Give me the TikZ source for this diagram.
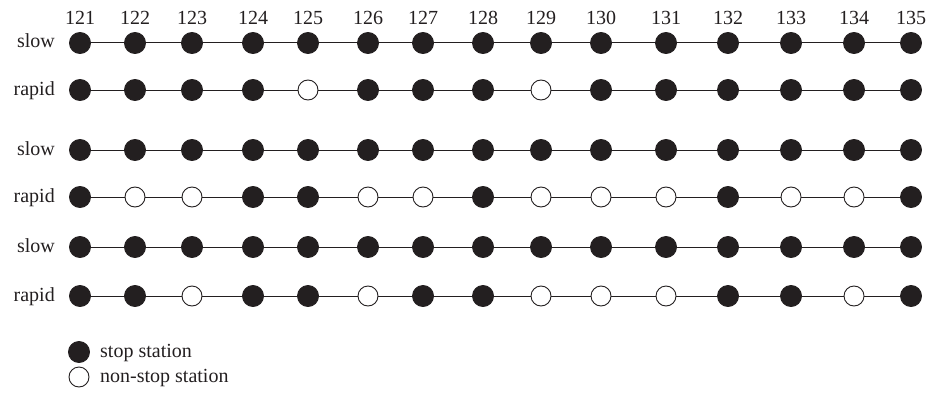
\documentclass[tikz,border=0pt]{standalone}
\usepackage{fontspec}
\setmainfont{Liberation Serif}

\definecolor{ink}{HTML}{231F20}

\tikzset{
    station/.style={circle, draw=ink, line width=0.9pt, inner sep=0pt, minimum size=21pt},
    sth/.style={station, fill=ink},
    stn/.style={station, fill=white, minimum size=20pt},
    track/.style={draw=ink, line width=1pt},
    lbl/.style={font=\fontsize{20}{22}\selectfont, text=ink, inner sep=0pt}
}

\begin{document}
\begin{tikzpicture}[x=1pt, y=-1pt]
    \useasboundingbox (0,0) rectangle (928,396);

    % Station numbers
    \foreach \xx/\num in {80/121, 135/122, 192/123, 253/124, 308/125, 368/126, 423/127, 483/128,
                          541/129, 601/130, 666/131, 728/132, 791/133, 854/134, 911/135}
        \node[lbl] (n\num) at (\xx, 18) {\num};

    % Train lines (h = stop, n = non-stop)
    \foreach \r/\y/\kind/\pat in {
            1/43/slow/{h,h,h,h,h,h,h,h,h,h,h,h,h,h,h},
            2/90/rapid/{h,h,h,h,n,h,h,h,n,h,h,h,h,h,h},
            3/150/slow/{h,h,h,h,h,h,h,h,h,h,h,h,h,h,h},
            4/197/rapid/{h,n,n,h,h,n,n,h,n,n,n,h,n,n,h},
            5/247/slow/{h,h,h,h,h,h,h,h,h,h,h,h,h,h,h},
            6/296/rapid/{h,h,n,h,h,n,h,h,n,n,n,h,h,n,h}} {
        \coordinate (y\r) at (0, \y);
        \node[lbl, anchor=base east] (k\r) at (55, \y+5) {\kind};
        \foreach \c [count=\i] in \pat {
            \pgfmathtruncatemacro\num{120+\i}
            \node[st\c] (s\r-\num) at (n\num |- y\r) {};
        }
        \foreach \a in {121,...,134} {
            \pgfmathtruncatemacro\b{\a+1}
            \draw[track] (s\r-\a) -- (s\r-\b);
        }
    }

    % Legend
    \node[sth] (kstop) at (79, 352) {};
    \node[lbl, anchor=base west] (tstop) at (100, 357) {stop station};
    \node[stn] (knon) at (79, 377) {};
    \node[lbl, anchor=base west] (tnon) at (100, 382) {non-stop station};
\end{tikzpicture}
\end{document}
